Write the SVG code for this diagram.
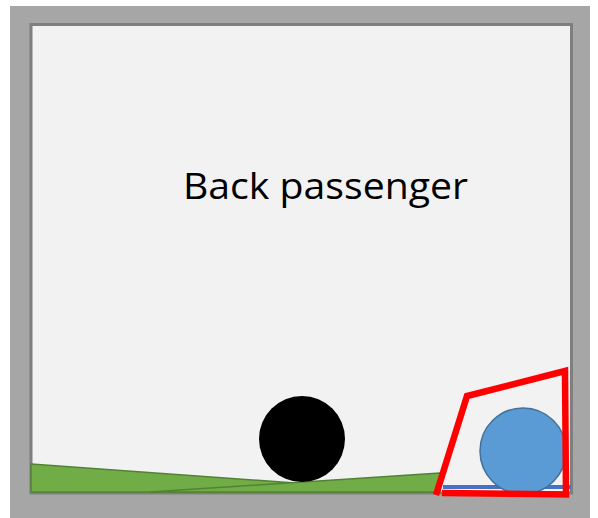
<svg xmlns="http://www.w3.org/2000/svg" width="598" height="518" viewBox="0 0 598 518">
  <style>
    .frame { fill: #a6a6a6; }
    .room { fill: #f2f2f2; stroke: #7f7f7f; stroke-width: 3; }
    .grass { fill: #70ad47; stroke: #548235; stroke-width: 1.5; stroke-linejoin: round; }
    .label { font-family: "Open Sans", "Liberation Sans", sans-serif; font-size: 37px; fill: #000; }
    .zone { fill: none; stroke: #ff0000; stroke-width: 6.5; stroke-linejoin: miter; }
  </style>
  <rect class="frame" x="10" y="6" width="580" height="512"/>
  <rect class="room" x="31" y="24.5" width="540.5" height="468.5"/>
  <g id="ground">
    <polygon class="grass" points="31,464 31,492 420,492"/>
    <polygon class="grass" points="440,473 440,492 150,492"/>
  </g>
  <g id="label">
    <text class="label" x="183" y="199" textLength="285" lengthAdjust="spacingAndGlyphs">Back passenger</text>
  </g>
  <g id="black-ball">
    <circle cx="302" cy="439" r="43" fill="#000"/>
  </g>
  <g id="blue-line">
    <line x1="443" y1="487" x2="571" y2="487" stroke="#4472c4" stroke-width="4"/>
  </g>
  <g id="blue-ball">
    <circle cx="523" cy="451" r="43" fill="#5b9bd5" stroke="#41719c" stroke-width="1.5"/>
  </g>
  <g id="connectors">
    <polyline class="zone" points="442,493 566,494.5 565,371 467,396 436,495"/>
  </g>
</svg>
